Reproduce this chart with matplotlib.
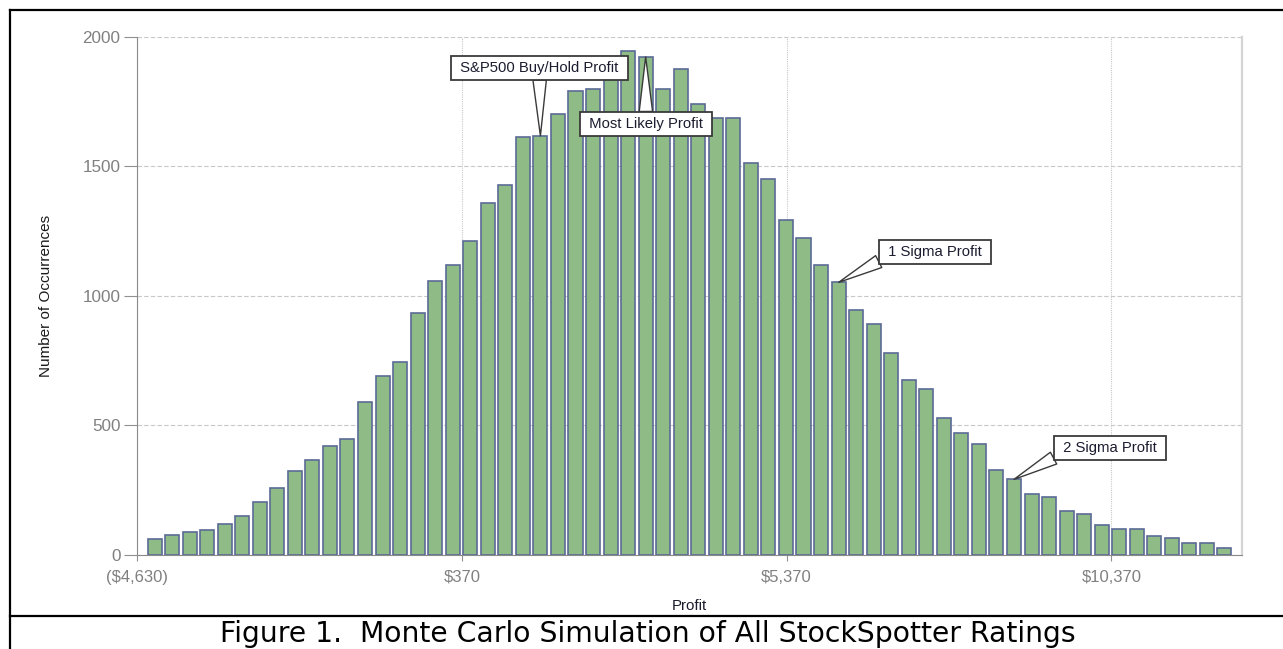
import matplotlib
matplotlib.use("Agg")
import matplotlib.pyplot as plt
from matplotlib.lines import Line2D

# ---- data ----
bin_width = 270
first_bin = -4360
counts = [59, 75, 86, 97, 118, 151, 205, 259, 323, 366,
          420, 448, 588, 690, 744, 932, 1057, 1121, 1212, 1359,
          1429, 1613, 1618, 1703, 1790, 1799, 1850, 1945, 1923, 1799,
          1875, 1740, 1689, 1688, 1514, 1451, 1294, 1224, 1121, 1052,
          945, 891, 781, 673, 642, 528, 469, 426, 328, 291,
          233, 222, 168, 157, 115, 98, 98, 71, 66, 45,
          45, 27]
profit = [first_bin + bin_width * i for i in range(len(counts))]

xtick_values = [-4630, 370, 5370, 10370]
xtick_labels = ["($4,630)", "$370", "$5,370", "$10,370"]
ytick_values = [0, 500, 1000, 1500, 2000]

callout_texts = ["S&P500 Buy/Hold Profit", "Most Likely Profit",
                 "1 Sigma Profit", "2 Sigma Profit"]
callout_bins = [22, 28, 39, 49]

caption = "Figure 1.  Monte Carlo Simulation of All StockSpotter Ratings"

# ---- figure ----
W, H = 1283, 649
fig = plt.figure(figsize=(W / 100, H / 100), dpi=100)
fig.patch.set_facecolor("white")

ax_l, ax_r, ax_t, ax_b = 137, 1242, 37, 554.7
ax = fig.add_axes([ax_l / W, 1 - ax_b / H, (ax_r - ax_l) / W, (ax_b - ax_t) / H])

chart_font = "Liberation Sans"

ax.bar(profit, counts, width=bin_width * 0.8, color="#8FBB87",
       edgecolor="#5B6B96", linewidth=1.2, zorder=3)

ax.set_xlim(profit[0] - bin_width, profit[-1] + bin_width)
ax.set_ylim(0, 2000)

ax.set_xticks(xtick_values)
ax.set_xticklabels(xtick_labels, fontfamily=chart_font, fontsize=12, color="#808080")
ax.set_yticks(ytick_values)
ax.set_yticklabels([str(v) for v in ytick_values], fontfamily=chart_font,
                   fontsize=12.3, color="#808080")
ax.tick_params(axis="y", length=9.4, width=0.8, color="#909090", pad=2.4)
ax.tick_params(axis="x", length=4, width=0.8, color="#909090", pad=7)

ax.grid(axis="y", color="#c8c8c8", linestyle=(0, (4, 2)), linewidth=0.8, zorder=0)
ax.grid(axis="x", color="#c8c8c8", linestyle=(0, (1, 1)), linewidth=0.8, zorder=0)
ax.set_axisbelow(True)

for s in ["left", "bottom"]:
    ax.spines[s].set_color("#8a8a8a")
    ax.spines[s].set_linewidth(0.8)
ax.spines["top"].set_visible(False)
ax.spines["right"].set_color("#d4d4d4")
ax.spines["right"].set_linewidth(1.6)

ax.set_xlabel("Profit", fontfamily=chart_font, fontsize=10.8, color="#1a1a2a")
ax.xaxis.label.set_va("center")
ax.xaxis.set_label_coords(0.5, (ax_b - 606) / (ax_b - ax_t))
ax.set_ylabel("Number of Occurrences", fontfamily=chart_font, fontsize=11, color="#1a1a1a")
ax.yaxis.label.set_va("center")
ax.yaxis.set_label_coords((46 - ax_l) / (ax_r - ax_l), 0.5)

# ---- callouts ----
offsets = [(-0.6, 49.1), (0.2, -48.3), (69.6, 22.1), (69.2, 22.5)]
relposes = [(0.5, 0.0), (0.5, 1.0), (0.0, 0.0), (0.0, 0.0)]
for txt, b, off, rp in zip(callout_texts, callout_bins, offsets, relposes):
    ax.annotate(" " + txt + " ", xy=(profit[b], counts[b]), xytext=off,
                textcoords="offset points", ha="center", va="center",
                fontfamily=chart_font, fontsize=10.7, color="#1c1c30",
                bbox=dict(boxstyle="square,pad=0.33", fc="white", ec="#3a3a3a", lw=1.3),
                arrowprops=dict(arrowstyle="wedge,tail_width=0.9,shrink_factor=0.5",
                                fc="white", ec="#3a3a3a", lw=1.0,
                                shrinkA=0, shrinkB=0, relpos=rp),
                zorder=5)

# ---- outer frame and caption ----
lw = 1.6
fig.add_artist(Line2D([10 / W, 1], [1 - 10 / H, 1 - 10 / H], color="black", lw=lw,
                      transform=fig.transFigure))
fig.add_artist(Line2D([10 / W, 10 / W], [0, 1 - 10 / H], color="black", lw=lw,
                      transform=fig.transFigure))
fig.add_artist(Line2D([10 / W, 1], [1 - 616 / H, 1 - 616 / H], color="black", lw=lw,
                      transform=fig.transFigure))

fig.text(648 / W, 1 - 641.5 / H, caption, ha="center", va="baseline",
         fontfamily="DejaVu Sans", fontsize=20.3, color="black")

fig.savefig("out.png", dpi=100)
